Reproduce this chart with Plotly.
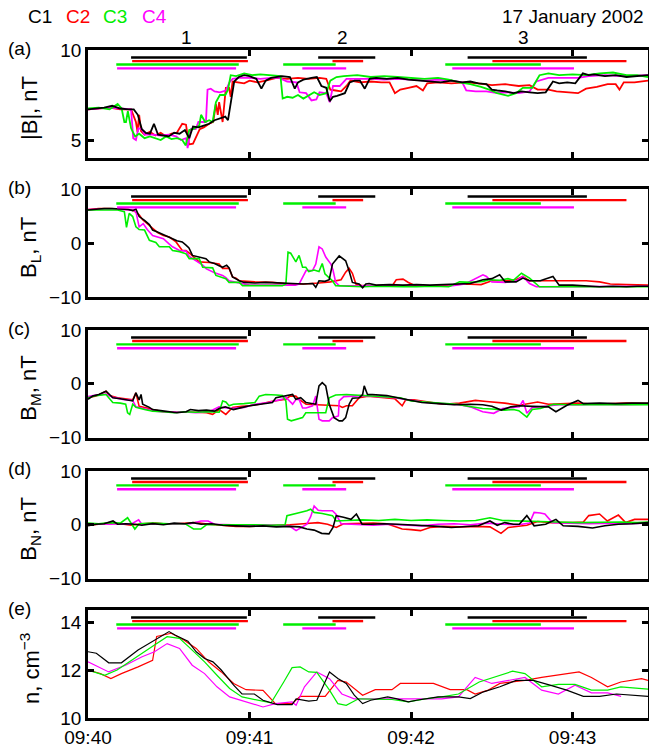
import plotly.graph_objects as go

# ---------------- data (time in seconds after 09:40:00 UT) ----------------
TIME_TICKS = [0, 60, 120, 180]
TIME_LABELS = ["09:40", "09:41", "09:42", "09:43"]
T_END = 208
SPACECRAFT = ["C1", "C2", "C3", "C4"]
COLORS = {"C1": "#000000", "C2": "#ff0000", "C3": "#00ee00", "C4": "#ff00ff"}
DATE_TEXT = "17 January 2002"
GROUP_LABELS = ["1", "2", "3"]
GROUP_TIMES = [36.4, 94.6, 161.6]

# interval bars (start, end) per spacecraft
INTERVALS_C1 = [(16, 59), (85.5, 106.7), (141, 185.3)]
INTERVALS_C2 = [(16.4, 59.4), (90.8, 102.2), (150.2, 200)]
INTERVALS_C3 = [(10.5, 56), (72.5, 92), (132.7, 168.2)]
INTERVALS_C4 = [(10.8, 55), (79.6, 95.9), (135.3, 180.5)]

# |B| (nT)
BMAG_C1 = [(0,6.7),(3,6.75),(6,6.8),(9,6.9),(12,6.75),(15,6.7),(17,6.7),(18.5,6.4),(20,5.6),(21.5,5.4),(23,5.35),(24.5,5.9),(26,5.3),(28,5.25),(30,5.2),(32,5.4),(34,5.35),(36,5.55),(37.6,5.1),(39,5.75),(41,5.7),(43,5.8),(45,5.9),(47,6.1),(49,6.2),(51,6.3),(52,6.1),(53,7.1),(54.3,8.25),(56,8.5),(58,8.6),(60,8.55),(62.5,8.4),(64.4,7.85),(66,8.3),(68,8.45),(72,8.55),(75,8.5),(76.8,7.85),(78,8.2),(80,8.35),(83,8.45),(85,8.5),(86.7,8.0),(88.5,7.9),(89.8,7.15),(91,7.4),(92.5,7.45),(95.4,7.6),(97.2,8.2),(99,8.3),(101,8.3),(102.8,7.85),(104.6,8.4),(107,8.45),(111,8.4),(115,8.45),(119,8.35),(123,8.3),(127,8.25),(131,8.2),(135,8.3),(139,8.2),(142,8.25),(145,8.15),(148,8.1),(150,7.8),(152,7.75),(155,7.7),(158,7.6),(161,7.7),(164,7.65),(167,7.6),(170,7.65),(172.7,8.25),(175,8.15),(178,8.2),(181,8.15),(183.8,8.7),(186,8.6),(188,8.65),(192,8.55),(196,8.6),(200,8.5),(204,8.55),(208,8.6)]
BMAG_C2 = [(0,6.7),(4,6.75),(8,6.8),(12,6.7),(16,6.7),(17.8,6.0),(18.4,5.45),(19,6.4),(19.7,5.5),(21,5.3),(23,5.45),(25,5.25),(27,5.4),(29,5.2),(31,5.35),(33,5.4),(35,5.9),(36.4,5.85),(37.5,4.75),(39,4.8),(40,5.1),(41.5,5.6),(43,5.7),(45,5.9),(46.5,6.0),(47.5,7.0),(48.2,6.4),(48.7,7.1),(50,6.0),(51.2,7.9),(52.4,7.9),(53,7.4),(53.7,8.25),(56,8.2),(58,8.15),(60,8.3),(63,8.2),(66,8.3),(70,8.45),(74,8.4),(78,8.45),(82,8.4),(86,8.45),(88.5,8.4),(90,7.8),(92,7.75),(94,7.7),(96,8.0),(97.5,8.3),(101,8.2),(105,8.25),(109,8.2),(112,8.2),(114,7.6),(116,7.8),(119,7.9),(122,8.0),(124.4,7.75),(126,8.15),(130,8.2),(135,8.15),(140,8.2),(145,8.15),(150,8.05),(155,8.1),(160,8.0),(164,8.05),(167,7.8),(171,7.8),(174,7.7),(178,7.65),(182,7.6),(185,7.85),(189,7.95),(193,8.1),(196,8.1),(197.4,7.8),(199,8.2),(203,8.2),(208,8.3)]
BMAG_C3 = [(0,6.75),(4,6.8),(8,6.7),(11,7.0),(12.5,6.75),(13.5,6.0),(14.1,6.0),(14.8,6.6),(16,5.65),(17.5,5.2),(19,5.35),(21,5.1),(23,5.2),(25,5.1),(27,5.0),(29,5.2),(31,5.05),(33,5.1),(35,5.0),(36.3,4.7),(37.6,5.55),(39,5.6),(41.3,5.8),(42,6.4),(43.5,6.0),(45,6.1),(46.3,6.0),(47.5,7.1),(49,7.5),(51,7.5),(52,7.8),(53,8.6),(55,8.55),(58,8.7),(61,8.6),(64,8.65),(68,8.6),(71.5,8.55),(72.3,7.3),(74,7.4),(76,7.35),(78,7.5),(80,7.3),(82.4,7.5),(84,7.65),(86,7.5),(88.5,7.6),(90,8.3),(92.3,8.5),(95,8.55),(100,8.6),(105,8.5),(110,8.55),(115,8.5),(120,8.45),(125,8.4),(130,8.45),(134,8.35),(138,8.2),(142,8.1),(146,7.95),(149,7.8),(152,7.6),(156,7.45),(159,7.6),(161.5,7.9),(165,7.9),(167.7,8.6),(171,8.7),(175,8.6),(180,8.65),(185,8.6),(190,8.7),(195,8.75),(200,8.6),(204,8.6),(208,8.5)]
BMAG_C4 = [(0,6.7),(4,6.75),(8,6.8),(12,6.75),(16,6.7),(16.8,5.1),(17.8,5.0),(18.7,5.65),(20,5.6),(21,5.3),(24,5.3),(27,5.25),(30,5.3),(32.7,5.2),(34.5,5.0),(36.4,5.1),(37,4.55),(38.2,5.6),(40,5.6),(41,6.0),(43.8,6.0),(44.4,7.8),(45.6,7.85),(47,7.7),(49,7.65),(51.2,7.75),(52.5,8.2),(53.7,8.4),(56,8.45),(60,8.45),(64,8.4),(68,8.45),(71,8.45),(74,8.25),(77.4,8.2),(78.6,7.65),(81,7.6),(83,7.2),(84.8,7.25),(86,7.65),(88.5,7.6),(89.8,7.1),(91,8.0),(93.5,8.0),(96,8.4),(100,8.4),(105,8.4),(110,8.35),(115,8.4),(120,8.35),(125,8.3),(130,8.35),(135,8.3),(139,8.2),(140.5,7.75),(144,7.7),(148,7.7),(152,7.6),(156,7.65),(160,7.6),(164,7.7),(166.5,8.25),(171,8.45),(176,8.45),(182,8.45),(186,8.55),(192,8.6),(198,8.55),(204,8.6),(208,8.6)]

# B_L (nT)
BL_C1 = [(0,6.1),(3,6.3),(6,6.4),(9,6.4),(12,6.3),(15,6.2),(16.6,6.0),(17.8,6.3),(19,4.9),(21,4.2),(22.8,3.4),(24,2.4),(26,2.0),(28,1.6),(30.2,1.1),(31.4,0.8),(33,0.4),(35,0.2),(36.4,-0.4),(37.5,-0.9),(38.8,-2.3),(41,-2.6),(43.8,-2.9),(45,-3.5),(47,-3.8),(48.7,-4.2),(50,-4.5),(51.5,-4.1),(52.4,-4.6),(53.7,-6.3),(56.2,-7.0),(58,-7.3),(62,-7.4),(66,-7.3),(71,-7.4),(75,-7.6),(80,-7.6),(83.5,-7.5),(84.6,-8.2),(85.8,-7.0),(88,-7.1),(89.6,-6.8),(90.8,-3.9),(93.3,-2.4),(95.7,-3.3),(97,-5.2),(98.2,-7.3),(100.7,-7.6),(102,-8.3),(103.2,-7.6),(104.4,-7.5),(107,-7.8),(112,-7.7),(117,-7.8),(122,-7.7),(127,-7.8),(132,-7.7),(137,-7.6),(142,-7.5),(146.7,-6.8),(150,-6.6),(152.9,-5.9),(155,-7.2),(159,-7.2),(161.5,-6.5),(164,-7.0),(168,-7.0),(172.7,-6.2),(175,-7.8),(180,-7.8),(185,-7.9),(190,-8.1),(195,-8.0),(200,-8.1),(204,-8.0),(208,-8.0)]
BL_C2 = [(0,6.2),(4,6.4),(8,6.4),(12,6.3),(15,6.2),(17,6.0),(19,5.2),(20.3,4.3),(22,3.6),(24,2.8),(26,1.9),(28,1.4),(30.2,1.1),(32.7,0.2),(35,-1.4),(36.4,-1.4),(38,-2.0),(41.3,-3.5),(45,-3.6),(48.7,-3.9),(50,-4.7),(52.4,-4.7),(53.7,-6.3),(55,-6.5),(56.2,-7.0),(62,-7.2),(68.5,-7.3),(75,-7.6),(80,-7.6),(85.8,-7.4),(90,-7.2),(94,-6.8),(95.7,-5.4),(97,-4.7),(98.2,-5.6),(99.5,-7.6),(102,-7.9),(107,-7.9),(113,-7.9),(114.5,-6.8),(117,-6.7),(119,-7.3),(122,-8.0),(127,-8.0),(133,-7.8),(140,-7.6),(146,-7.7),(150,-7.0),(155,-7.0),(159,-6.8),(161.5,-6.2),(164,-7.0),(170,-7.0),(178,-7.0),(185,-7.0),(190,-7.2),(194,-7.6),(200,-7.7),(208,-7.8)]
BL_C3 = [(0,6.1),(4,6.1),(8,6.2),(11,6.1),(13.5,5.8),(14.3,2.9),(15.3,5.5),(16.6,4.9),(17.8,3.0),(19,2.5),(21,2.4),(22.8,0.5),(25.2,0.1),(26.5,-0.7),(30.2,-0.7),(31.4,-1.4),(34,-1.6),(36.4,-2.0),(37.6,-2.9),(41.3,-2.9),(42.6,-4.5),(46.3,-4.6),(47.5,-6.0),(51.2,-6.6),(52.4,-7.3),(56.2,-7.3),(57.4,-7.9),(62,-7.9),(67,-8.0),(72.2,-7.9),(73.5,-7.6),(74.3,-1.7),(75.3,-1.9),(76.2,-2.8),(77.2,-3.5),(78.4,-2.3),(79.7,-4.5),(80.9,-4.5),(82,-5.3),(84,-5.0),(85.8,-5.3),(87,-3.8),(88,-5.7),(90.8,-7.0),(92,-7.9),(97,-8.0),(102,-8.1),(107,-8.0),(112,-8.1),(117,-8.1),(122,-8.1),(128,-8.0),(134,-8.1),(138,-7.2),(142,-7.3),(146.7,-7.1),(149,-6.8),(153,-6.9),(156,-6.6),(158,-6.9),(161,-5.6),(164,-6.5),(167.7,-8.1),(172,-8.1),(180,-8.0),(190,-8.1),(200,-8.0),(208,-8.1)]
BL_C4 = [(0,6.2),(4,6.3),(8,6.3),(12,6.2),(16.6,6.1),(17.8,5.8),(19,3.0),(20.5,3.6),(22,2.5),(24,1.4),(26,1.1),(28,0.8),(30.2,-0.2),(31.4,-0.7),(34,-1.4),(36.4,-1.5),(37.6,-2.5),(40,-3.3),(42.6,-4.1),(44,-4.8),(47,-5.5),(50,-6.0),(51.2,-6.4),(52.4,-7.0),(55,-7.3),(57.4,-7.6),(60,-7.8),(66,-7.8),(72,-7.8),(77,-7.8),(78.4,-7.6),(79.7,-6.4),(81,-5.1),(83.4,-5.1),(84.6,-3.9),(85.8,-0.7),(87,-1.1),(88.3,-2.6),(90.2,-3.9),(91,-5.0),(92,-7.3),(93.3,-7.9),(98,-7.9),(104,-8.0),(110,-7.9),(116,-8.0),(122,-8.0),(128,-7.9),(134,-8.0),(140,-7.6),(146.7,-5.9),(148,-6.2),(150,-7.2),(155,-7.3),(159,-7.0),(161.5,-6.2),(164,-7.5),(166.5,-8.1),(172,-8.1),(180,-8.1),(190,-8.0),(200,-8.1),(208,-8.0)]

# B_M (nT)
BM_C1 = [(0,-2.9),(1.7,-2.3),(4,-2.0),(6.7,-1.4),(8,-2.0),(9.2,-2.6),(12,-2.8),(16.6,-3.2),(17.8,-1.7),(19,-3.0),(19.7,-2.0),(20.3,-3.8),(22.8,-4.4),(24,-4.8),(27,-5.0),(30,-5.2),(33,-5.4),(36.4,-5.2),(38,-4.8),(41,-5.0),(44,-4.9),(47,-5.1),(48.7,-4.6),(51,-4.3),(54,-4.8),(57.4,-4.4),(60,-4.1),(64,-3.8),(68.5,-3.5),(69.8,-2.6),(72,-2.4),(76,-2.0),(77.2,-2.9),(79,-2.6),(81,-3.5),(84.6,-3.8),(85.8,-0.4),(87,0.2),(88.3,-0.4),(89.6,-3.8),(91.4,-6.3),(93.3,-6.9),(94.5,-6.9),(95.7,-6.3),(97,-3.8),(98.2,-2.7),(100.7,-2.6),(102,-2.0),(102.6,-0.4),(103.8,-2.0),(105.6,-2.0),(108,-2.1),(111,-2.2),(115,-2.6),(119.5,-3.1),(124,-3.5),(130,-3.7),(136,-3.9),(142,-3.8),(146.6,-3.9),(150,-4.2),(153.5,-4.9),(157,-4.3),(160.2,-4.1),(165,-4.2),(171,-4.3),(173.8,-5.2),(177.9,-4.0),(182,-3.1),(184,-3.7),(190,-3.6),(196,-3.7),(202,-3.6),(208,-3.6)]
BM_C2 = [(0,-2.6),(3,-2.3),(6.7,-1.4),(8,-2.2),(11,-2.6),(16.6,-3.0),(17.8,-1.7),(19,-4.2),(22,-4.5),(24,-4.8),(28,-5.2),(32,-5.3),(36,-5.2),(40,-5.3),(44,-5.4),(46.3,-5.7),(48.7,-4.8),(51.2,-5.7),(53.7,-4.4),(57,-4.2),(60,-4.1),(63.6,-3.8),(68,-3.3),(73.5,-2.9),(75,-2.3),(77.2,-2.3),(78.4,-2.9),(81,-3.8),(85,-3.9),(89,-4.0),(93.3,-4.1),(94.5,-4.4),(96,-4.1),(98.2,-4.1),(100.7,-2.6),(104,-2.3),(108,-2.5),(112,-2.7),(114,-2.8),(116.7,-4.1),(118,-3.0),(121,-3.0),(126,-3.4),(132,-3.8),(138,-3.6),(143.9,-3.1),(148,-3.3),(151,-3.4),(154.8,-3.6),(160.2,-4.0),(164,-3.7),(167,-3.4),(171,-3.8),(176,-3.7),(182,-3.6),(188,-3.8),(194,-3.7),(200,-3.6),(208,-3.7)]
BM_C3 = [(0,-2.6),(3,-2.2),(6.7,-2.0),(9.2,-3.5),(12,-3.6),(14,-3.8),(14.7,-5.4),(15.5,-5.7),(16.6,-3.8),(17.8,-4.4),(21,-4.8),(24,-5.1),(28,-5.2),(32,-5.4),(36,-5.2),(40,-5.3),(44,-5.2),(48.7,-5.3),(50,-3.2),(51.2,-3.4),(52.4,-4.1),(54,-3.8),(58,-3.7),(62,-3.5),(63.6,-2.3),(66,-2.0),(70,-2.1),(72.2,-2.2),(73.5,-3.2),(74.1,-6.6),(75.5,-6.9),(77,-6.7),(79.7,-6.3),(80.9,-5.4),(83,-5.4),(86,-5.3),(88.3,-5.4),(89.6,-2.6),(92,-2.1),(96,-2.0),(100,-2.1),(104,-2.2),(108,-2.3),(112,-2.4),(116,-2.6),(120,-3.2),(126,-3.4),(132,-3.6),(137,-3.8),(141.2,-4.2),(146.6,-4.6),(150,-4.7),(154.8,-4.9),(158,-4.8),(160,-5.0),(163,-6.2),(165,-4.8),(168,-4.6),(173,-3.8),(180,-3.9),(188,-3.9),(196,-3.9),(202,-3.8),(208,-3.9)]
BM_C4 = [(0,-2.4),(3,-2.1),(6.7,-1.9),(9.2,-2.5),(13,-2.9),(16.6,-3.1),(17.8,-4.3),(22,-4.8),(25,-5.1),(30,-5.3),(35,-5.2),(40,-5.4),(45,-5.2),(48.7,-4.3),(53,-4.6),(58,-4.4),(62,-3.8),(67,-3.5),(72,-2.9),(73.5,-2.5),(74.7,-3.2),(76,-3.8),(77.3,-2.9),(78.4,-2.9),(79.7,-4.5),(81,-4.5),(83.4,-4.1),(84.6,-2.3),(85.8,-6.6),(87,-6.9),(89.6,-6.9),(90.8,-6.3),(93,-6.0),(93.3,-3.2),(95,-2.4),(98,-2.3),(102,-2.2),(108,-2.4),(114,-2.6),(120,-3.1),(126,-3.5),(132,-3.7),(138,-3.9),(142,-4.3),(146.6,-5.2),(150.7,-5.5),(154,-4.6),(158,-4.4),(160.2,-4.3),(161.6,-3.1),(163,-5.5),(165,-4.4),(170,-4.1),(175,-3.9),(182,-3.9),(190,-3.8),(198,-3.9),(208,-3.8)]

# B_N (nT)
BN_C1 = [(0,-0.2),(3,0.1),(6,0.2),(9.3,0.7),(11,0.1),(14,0.2),(17.4,0.1),(20,-0.1),(24,0.2),(28,0.0),(32,0.3),(36,0.2),(39,0.4),(42,0.1),(46,0.2),(50,-0.1),(55,-0.2),(60,-0.3),(65,-0.2),(70,-0.4),(75,-0.3),(78.6,-0.4),(81.3,-0.8),(84,-1.0),(86.8,-1.6),(89.5,-1.7),(91,-0.5),(92.2,1.7),(94.9,1.4),(97.7,1.0),(99.7,2.0),(101.8,0.1),(105,0.1),(110,0.2),(115,0.1),(119.5,0.0),(125,-0.2),(130,-0.3),(135,-0.5),(140,-0.3),(145,-0.2),(149.3,0.7),(152,-0.1),(154.8,0.4),(158,0.1),(160.2,0.1),(163,1.7),(165.7,-0.2),(170,0.1),(173.8,1.0),(176.5,-0.2),(182,-0.3),(187.4,-0.6),(192,-0.2),(197,0.1),(202,0.2),(208,0.4)]
BN_C2 = [(0,-0.1),(4,0.1),(8,0.3),(12,0.2),(16,-0.1),(20,0.2),(25,0.3),(30,0.1),(35,0.2),(40,0.4),(45,0.1),(50,-0.1),(55,-0.3),(60,-0.3),(65,-0.2),(70,-0.2),(75,0.0),(80,0.2),(85.4,0.4),(89,0.1),(92.2,-0.5),(94.9,0.2),(100,0.3),(106,0.3),(111,0.2),(116.7,-0.8),(120,-0.9),(123.5,-1.1),(127,-0.5),(132,-0.3),(138,-0.4),(144,-0.3),(149.3,-0.4),(153.4,-1.6),(156.1,-0.5),(160,-0.2),(163,-0.1),(167,0.6),(172,0.4),(180,0.4),(184,0.5),(186,1.7),(190,2.0),(192.9,0.7),(197,1.8),(199.7,0.4),(203,1.0),(208,1.0)]
BN_C3 = [(0,0.3),(4,0.2),(8,0.4),(12,0.3),(14.7,1.3),(16,0.3),(17.4,-0.8),(19,0.2),(24,0.3),(30,0.2),(36,0.2),(39.2,-0.8),(41.9,-0.8),(44,0.0),(50,0.0),(56,0.1),(62,0.0),(68,-0.1),(73.2,0.0),(73.9,1.7),(76,2.0),(78,2.2),(81.3,2.6),(82.7,2.9),(84,2.3),(87,2.1),(90.8,1.7),(92.2,0.7),(96,0.8),(102,0.9),(108,0.8),(114,1.0),(120,0.8),(126,0.9),(132,0.8),(138,0.7),(144,0.8),(149.3,1.3),(154,0.8),(160.2,0.7),(166,0.5),(174,0.5),(182,0.4),(190,0.5),(198,0.5),(204,0.4),(208,0.5)]
BN_C4 = [(0,0.1),(4,0.2),(8,0.1),(12,0.2),(16,0.1),(18.8,0.9),(20,0.1),(26,0.2),(32,0.1),(38,0.2),(42,0.7),(44.6,0.7),(47,0.1),(54,0.0),(60,-0.1),(66,0.0),(72,-0.2),(75,-0.3),(77.3,-1.1),(79,-0.6),(81.3,0.1),(82.7,1.5),(84,3.5),(85.5,2.7),(87,2.6),(90.8,2.6),(92.2,1.9),(94,0.2),(100,0.0),(106,-0.1),(112,0.1),(118,0.0),(124,-0.2),(130,0.1),(136,0.2),(142,0.0),(148,0.3),(154,0.1),(160,0.0),(164,0.3),(165.7,2.3),(168,2.2),(169.7,2.0),(172.5,0.4),(178,0.3),(186,0.2),(194,0.3),(200,0.2),(208,0.3)]

# n (cm^-3)
N_C1 = [(0,12.76),(3.1,12.7),(7.7,12.3),(12.4,12.3),(18.6,12.83),(24.7,13.25),(30.1,13.6),(32.5,13.45),(37.1,13.2),(40.2,12.76),(43.3,12.48),(46.4,12.34),(49.5,12.0),(54.1,11.37),(57.2,11.0),(61.8,11.0),(65,10.74),(70.3,10.56),(75.8,10.56),(77.3,10.8),(82,10.7),(85,10.74),(89.7,11.92),(92.8,11.65),(95.9,11.44),(98.9,10.95),(102,10.6),(105,10.74),(111.3,10.88),(114.4,10.81),(119,10.67),(122,10.74),(130,10.88),(137.6,10.88),(142,10.81),(146.9,11.09),(153,11.3),(159,11.57),(165.4,11.57),(171.6,11.37),(177.8,11.16),(184,10.9),(190,10.9),(196.3,11.0),(208,10.9)]
N_C2 = [(0,12.0),(4.6,11.85),(8.5,11.64),(12.4,11.85),(18.6,12.13),(24,12.4),(25.5,13.4),(30.9,13.53),(35.6,13.25),(40.2,12.9),(44.8,12.34),(49.5,11.92),(54.1,11.44),(58.7,11.18),(65,11.15),(69.6,10.6),(75.8,10.6),(78.8,10.9),(88.1,10.9),(92.8,11.57),(95.9,11.5),(98.9,11.23),(102,10.95),(106.7,11.18),(112.9,11.18),(116,11.44),(128.3,11.44),(134.5,11.18),(140.7,11.18),(143.8,11.0),(148.4,11.15),(153,11.44),(162.3,11.57),(168.5,11.69),(174.7,11.78),(182.4,11.92),(187,11.69),(193,11.3),(197.9,11.5),(205.6,11.64),(208,11.57)]
N_C3 = [(0,12.0),(6.2,11.78),(10.8,12.0),(15.5,12.34),(20.1,12.69),(24.7,13.04),(29.4,13.39),(34,13.32),(38.7,12.83),(43.3,12.34),(47.9,11.78),(52.6,11.23),(57.2,10.88),(63.4,10.74),(68,10.63),(72.7,11.5),(75.8,12.1),(78.8,12.13),(82,11.92),(85,11.9),(89.7,11.16),(92.8,10.6),(95.9,10.53),(100.5,10.8),(106.7,10.8),(112.9,10.77),(119,10.67),(125.2,10.8),(131.4,10.88),(137.6,11.0),(145.3,11.5),(153,11.78),(157.7,11.95),(162.3,11.85),(168.5,11.3),(174.7,11.4),(180.9,11.4),(187,11.16),(193,11.16),(197.9,11.3),(208,11.2)]
N_C4 = [(0,12.34),(7.7,11.92),(13.9,12.2),(20.1,12.55),(24.7,12.76),(29.4,13.1),(34,12.9),(38.7,12.2),(43.3,11.85),(47.9,11.3),(52.6,10.88),(58.7,10.67),(65,10.46),(69.6,10.6),(75.8,10.67),(77.3,10.53),(80.4,11.3),(85,11.92),(89.7,11.64),(94.3,11.0),(98.9,10.8),(106.7,10.8),(116,10.8),(122,10.8),(131.4,10.8),(137.6,10.88),(143.8,11.69),(150,11.44),(156,11.57),(162.3,11.69),(168.5,11.16),(174.7,11.0),(180.9,11.37),(187,11.05),(193,11.05),(198,10.9)]

# ---------------- figure ----------------
W, H = 649, 750
FONT = "Liberation Sans, Arial, Helvetica, sans-serif"
FS = 19
FS_TITLE = 22

panels = [
    dict(label="(a)", title="|B|, nT", rng=[4, 10], ticks=[5, 10],
         data={"C1": BMAG_C1, "C2": BMAG_C2, "C3": BMAG_C3, "C4": BMAG_C4}, top=50, bot=158, lw=1.8),
    dict(label="(b)", title="B<sub>L</sub>, nT", rng=[-10, 10], ticks=[-10, 0, 10],
         data={"C1": BL_C1, "C2": BL_C2, "C3": BL_C3, "C4": BL_C4}, top=189, bot=297, lw=1.6),
    dict(label="(c)", title="B<sub>M</sub>, nT", rng=[-10, 10], ticks=[-10, 0, 10],
         data={"C1": BM_C1, "C2": BM_C2, "C3": BM_C3, "C4": BM_C4}, top=330, bot=437.5, lw=1.6),
    dict(label="(d)", title="B<sub>N</sub>, nT", rng=[-10, 10], ticks=[-10, 0, 10],
         data={"C1": BN_C1, "C2": BN_C2, "C3": BN_C3, "C4": BN_C4}, top=471, bot=578.5, lw=1.6),
    dict(label="(e)", title="n, cm<sup>−3</sup>", rng=[10, 14.5], ticks=[10, 12, 14],
         data={"C1": N_C1, "C2": N_C2, "C3": N_C3, "C4": N_C4}, top=610, bot=718, lw=1.2),
]
INTERVALS = {"C1": INTERVALS_C1, "C2": INTERVALS_C2, "C3": INTERVALS_C3, "C4": INTERVALS_C4}
BAR_LEVEL = {"C1": 0.93, "C2": 0.897, "C3": 0.866, "C4": 0.83}
DRAW_ORDER = ["C2", "C4", "C3", "C1"]

ML, MR, MT, MB = 88, 1, 12, 32
PW = W - ML - MR
PH = H - MT - MB


def px_x(px):
    return (px - ML) / PW


def px_y(px):
    return (H - MB - px) / PH


fig = go.Figure()
layout = dict(width=W, height=H, margin=dict(l=ML, r=MR, t=MT, b=MB, pad=0, autoexpand=False),
              paper_bgcolor="white", plot_bgcolor="white", showlegend=False,
              font=dict(family=FONT, size=FS, color="black"))
shapes, annotations = [], []

for i, p in enumerate(panels, start=1):
    sfx = "" if i == 1 else str(i)
    xa, ya = "x" + sfx, "y" + sfx
    dom = [px_y(p["bot"]), px_y(p["top"])]
    layout["xaxis" + sfx] = dict(domain=[0, 1], range=[0, T_END], anchor=ya, automargin=False,
                                 tickmode="array", tickvals=TIME_TICKS, ticktext=TIME_LABELS,
                                 showticklabels=(i == len(panels)), ticks="inside", ticklen=6,
                                 tickwidth=2.5, tickcolor="black", showline=True, linewidth=2.8,
                                 linecolor="black", mirror="ticks", showgrid=False, zeroline=False,
                                 tickfont=dict(size=FS))
    layout["yaxis" + sfx] = dict(domain=dom, range=p["rng"], anchor=xa, automargin=False,
                                 tickmode="array", tickvals=p["ticks"], ticks="inside", ticklen=6,
                                 tickwidth=2.5, tickcolor="black", showline=True, linewidth=2.8,
                                 linecolor="black", mirror="ticks", showgrid=False, zeroline=False,
                                 tickfont=dict(size=FS))
    for sc in DRAW_ORDER:
        d = p["data"][sc]
        fig.add_trace(go.Scatter(x=[q[0] for q in d], y=[q[1] for q in d], mode="lines",
                                 line=dict(color=COLORS[sc], width=p["lw"]),
                                 xaxis=xa, yaxis=ya, hoverinfo="skip", showlegend=False))
    for sc in SPACECRAFT:
        for (t0, t1) in INTERVALS[sc]:
            shapes.append(dict(type="line", xref=xa, yref=ya + " domain", x0=t0, x1=t1,
                               y0=BAR_LEVEL[sc], y1=BAR_LEVEL[sc],
                               line=dict(color=COLORS[sc], width=2.4)))
    annotations.append(dict(text=p["label"], xref="paper", yref="paper",
                            x=px_x(19), y=px_y(p["top"] - 2),
                            xanchor="center", yanchor="middle", showarrow=False,
                            font=dict(size=FS)))
    annotations.append(dict(text=p["title"], xref="paper", yref="paper",
                            x=px_x(30), y=px_y((p["top"] + p["bot"]) / 2 + 4),
                            xanchor="center", yanchor="middle", textangle=-90, showarrow=False,
                            font=dict(size=FS_TITLE)))

SC_X = {"C1": 40, "C2": 78, "C3": 115, "C4": 154}
for sc in SPACECRAFT:
    annotations.append(dict(text=sc, xref="paper", yref="paper", x=px_x(SC_X[sc]),
                            y=px_y(17), xanchor="center", yanchor="middle", showarrow=False,
                            font=dict(size=FS, color=COLORS[sc])))
annotations.append(dict(text=DATE_TEXT, xref="paper", yref="paper", x=px_x(646),
                        y=px_y(17), xanchor="right", yanchor="middle", showarrow=False,
                        font=dict(size=FS)))
for lab, t in zip(GROUP_LABELS, GROUP_TIMES):
    annotations.append(dict(text=lab, xref="x", yref="paper", x=t, y=px_y(37),
                            xanchor="center", yanchor="middle", showarrow=False,
                            font=dict(size=FS)))

layout["shapes"] = shapes
layout["annotations"] = annotations
fig.update_layout(**layout)
fig.write_html("out.html", config={"displayModeBar": False, "responsive": False})

# remove the default page margin so the 649x750 figure fills the window exactly
with open("out.html", "r", encoding="utf-8") as f:
    html = f.read()
html = html.replace("<head>", "<head><style>html,body{margin:0;padding:0;overflow:hidden;}</style>", 1)
with open("out.html", "w", encoding="utf-8") as f:
    f.write(html)
